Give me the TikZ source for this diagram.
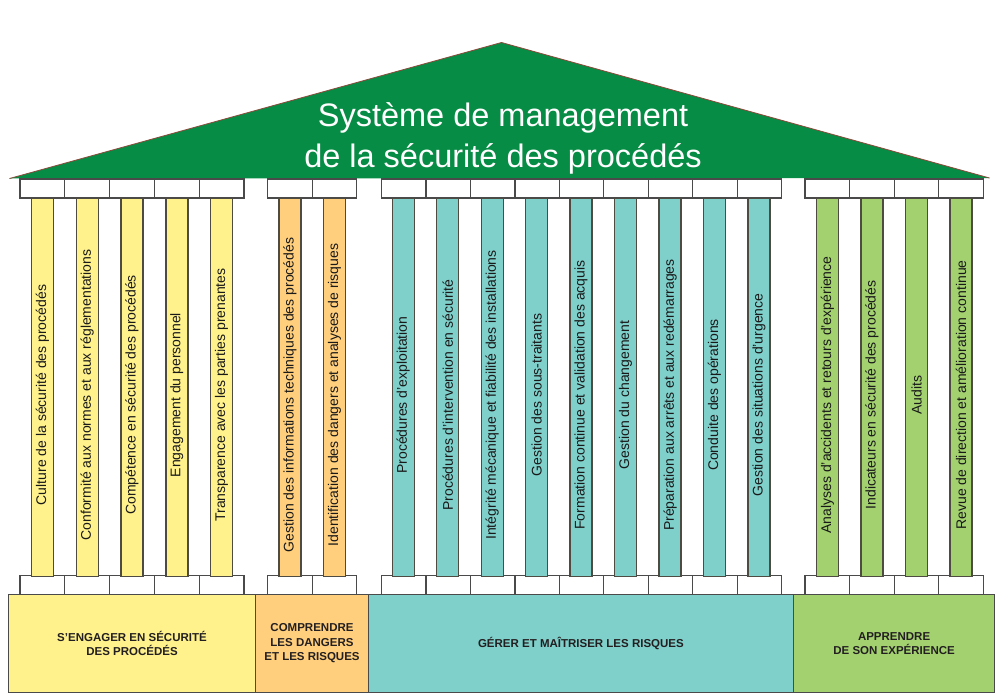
\documentclass[tikz,border=0pt]{standalone}
\usepackage{fontspec}
\setmainfont{Liberation Sans}
\definecolor{roofgreen}{HTML}{078C45}
\definecolor{roofedge}{HTML}{8A4A3A}
\definecolor{yel}{HTML}{FFF28C}
\definecolor{ora}{HTML}{FFCF7D}
\definecolor{tea}{HTML}{7FCFCA}
\definecolor{gre}{HTML}{A3D170}
\definecolor{coledge}{HTML}{4E4C42}
\definecolor{capedge}{HTML}{4A4A4A}
\definecolor{baseedge}{HTML}{4A4A4A}
\definecolor{basetext}{HTML}{231F20}
\begin{document}
\begin{tikzpicture}[x=1pt,y=-1pt,
  capbox/.style={draw=capedge, fill=white, line width=1.2pt, minimum width=44.6pt, minimum height=19pt, inner sep=0pt, outer sep=0pt},
  colbox/.style={draw=coledge, line width=1.4pt, minimum width=22pt, minimum height=378pt, inner sep=0pt, outer sep=0pt},
  coltext/.style={rotate=90, font=\fontsize{14}{16}\selectfont, text=black!90, inner sep=0pt},
  basebox/.style={draw=baseedge, line width=1pt, inner sep=0pt, outer sep=0pt, minimum height=98.4pt, align=center, font=\bfseries\fontsize{11.5}{14.5}\selectfont, text=basetext},
  titletext/.style={text=white, font=\fontsize{32.5}{40}\selectfont, inner sep=0pt}]
\useasboundingbox (0,0) rectangle (1000,698);
% roof
\fill[roofgreen] (9.5,178.5) -- (501.5,42.5) -- (989.5,178) -- cycle;
\draw[roofedge, line width=0.8pt, line join=round] (9.5,178.5) -- (501.5,42.5) -- (989.5,178);
\node[titletext, anchor=base] (title1) at (503,127) {Système de management};
\node[titletext, anchor=base] (title2) at (503,167) {de la sécurité des procédés};
% base boxes
\node[basebox, fill=yel, minimum width=247.4pt] (base1) at (132,643.5) {S’ENGAGER EN SÉCURITÉ\\DES PROCÉDÉS};
\node[basebox, fill=ora, minimum width=112.6pt] (base2) at (312,643.5) {COMPRENDRE\\LES DANGERS\\ET LES RISQUES};
\node[basebox, fill=tea, minimum width=425.2pt] (base3) at (580.9,643.5) {GÉRER ET MAÎTRISER LES RISQUES};
\node[basebox, fill=gre, minimum width=201.2pt] (base4) at (894.1,643.5) {APPRENDRE\\DE SON EXPÉRIENCE};
% capitals (top and bottom)
\foreach \g/\s/\w/\n in {1/20/44.8/5, 2/267.5/44.6/2, 3/381.5/44.47/9, 4/805/44.6/4}{
  \foreach \i in {1,...,\n}{
    \node[capbox, minimum width=\w pt] (tcap-\g-\i) at ({\s+(\i-0.5)*\w},188.5) {};
    \node[capbox, minimum width=\w pt] (bcap-\g-\i) at ({\s+(\i-0.5)*\w},585.2) {};
  }
}
% columns
\foreach \k/\cx/\c/\t in {
  1/42.4/yel/{Culture de la sécurité des procédés},
  2/87.2/yel/{Conformité aux normes et aux réglementations},
  3/132/yel/{Compétence en sécurité des procédés},
  4/176.8/yel/{Engagement du personnel},
  5/221.6/yel/{Transparence avec les parties prenantes},
  6/289.8/ora/{Gestion des informations techniques des procédés},
  7/334.4/ora/{Identification des dangers et analyses de risques},
  8/403.2/tea/{Procédures d’exploitation},
  9/447.7/tea/{Procédures d’intervention en sécurité},
  10/492.2/tea/{Intégrité mécanique et fiabilité des installations},
  11/536.6/tea/{Gestion des sous-traitants},
  12/581.1/tea/{Formation continue et validation des acquis},
  13/625.6/tea/{Gestion du changement},
  14/670.1/tea/{Préparation aux arrêts et aux redémarrages},
  15/714.5/tea/{Conduite des opérations},
  16/759/tea/{Gestion des situations d’urgence},
  17/827.3/gre/{Analyses d’accidents et retours d’expérience},
  18/871.9/gre/{Indicateurs en sécurité des procédés},
  19/916.5/gre/{Audits},
  20/961.1/gre/{Revue de direction et amélioration continue}}{
  \node[colbox, fill=\c] (col-\k) at (\cx,387.3) {};
  \node[coltext] (lab-\k) at (\cx,395) {\t};
}
\end{tikzpicture}
\end{document}
